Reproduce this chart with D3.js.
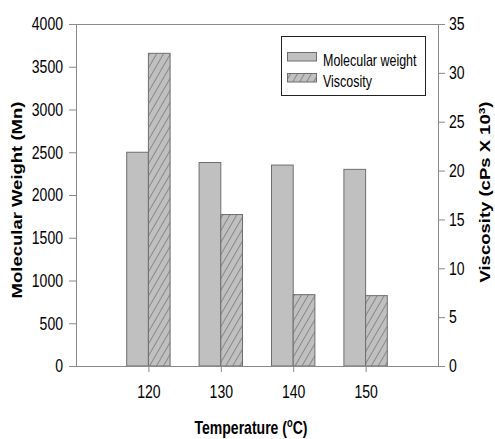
<!DOCTYPE html>
<html>
<head>
<meta charset="utf-8">
<script src="https://cdn.jsdelivr.net/npm/d3@7"></script>
<style>
  html, body { margin: 0; padding: 0; background: #fff; }
  svg { display: block; }
  text { font-family: "Liberation Sans", Arial, sans-serif; }
  /* narrow lettering: squeeze glyphs horizontally around an anchor */
  .nx-r { transform: scaleX(0.78); transform-box: fill-box; transform-origin: 100% 50%; }
  .nx-l { transform: scaleX(0.78); transform-box: fill-box; transform-origin: 0% 50%; }
  .nx-c { transform: scaleX(0.78); transform-box: fill-box; transform-origin: 50% 50%; }
</style>
</head>
<body>
<svg id="chart" width="495" height="439"></svg>
<script>
// Reaction temperature (°C)
const temperatures = [120, 130, 140, 150];
// Number-average molecular weight (Mn), left axis
const molecularWeight = [2500, 2380, 2350, 2300];
// Viscosity (cPs × 10³), right axis
const viscosity = [32, 15.5, 7.3, 7.2];
const mwTicks = [0, 500, 1000, 1500, 2000, 2500, 3000, 3500, 4000];
const viscTicks = [0, 5, 10, 15, 20, 25, 30, 35];
const seriesNames = ["Molecular weight", "Viscosity"];

const svg = d3.select("#chart");
const W = 495, H = 439;
const m = { left: 76, right: 57, top: 24, bottom: 73 };
const x0 = m.left, x1 = W - m.right, y0 = H - m.bottom, y1 = m.top;

const x = d3.scaleLinear().domain([110, 160]).range([x0, x1]);
const yL = d3.scaleLinear().domain([0, 4000]).range([y0, y1]);
const yR = d3.scaleLinear().domain([0, 35]).range([y0, y1]);
const barW = 21.7;

const axisColor = "#8a8a8a";
const barStroke = "#6e6e6e";

// diagonal hatch for the viscosity bars
const defs = svg.append("defs");
const pat = defs.append("pattern")
  .attr("id", "hatch").attr("patternUnits", "userSpaceOnUse")
  .attr("width", 6).attr("height", 6)
  .attr("patternTransform", "rotate(30)");
pat.append("rect").attr("width", 6).attr("height", 6).attr("fill", "#c0c0c0");
pat.append("line").attr("x1", 0).attr("y1", 0).attr("x2", 0).attr("y2", 6)
  .attr("stroke", "#505050").attr("stroke-width", 1);

// top frame line
svg.append("line").attr("x1", x0).attr("x2", x1).attr("y1", y1 + 0.5).attr("y2", y1 + 0.5)
  .attr("stroke", axisColor).attr("stroke-width", 1);

// bars: molecular weight left of each tick, viscosity right of it
const g = svg.append("g");
g.selectAll("rect.mw").data(temperatures).join("rect").attr("class", "mw")
  .attr("x", (d) => x(d) - barW)
  .attr("y", (d, i) => yL(molecularWeight[i]))
  .attr("width", barW)
  .attr("height", (d, i) => y0 - yL(molecularWeight[i]))
  .attr("fill", "#c0c0c0").attr("stroke", barStroke).attr("stroke-width", 1);
g.selectAll("rect.vis").data(temperatures).join("rect").attr("class", "vis")
  .attr("x", (d) => x(d))
  .attr("y", (d, i) => yR(viscosity[i]))
  .attr("width", barW)
  .attr("height", (d, i) => y0 - yR(viscosity[i]))
  .attr("fill", "url(#hatch)").attr("stroke", barStroke).attr("stroke-width", 1);

// axes
function styleAxis(cls) {
  return (sel) => {
    sel.select(".domain").attr("stroke", axisColor);
    sel.selectAll(".tick line").attr("stroke", axisColor);
    sel.selectAll(".tick text").attr("fill", "#000")
      .attr("class", cls)
      .style("font-size", "18px")
      .style("font-family", '"Liberation Sans", Arial, sans-serif');
  };
}
svg.append("g").attr("transform", `translate(${x0},0)`)
  .call(d3.axisLeft(yL).tickValues(mwTicks).tickSize(7).tickSizeOuter(0).tickPadding(6).tickFormat(d3.format("d")))
  .call(styleAxis("nx-r"));
svg.append("g").attr("transform", `translate(${x1},0)`)
  .call(d3.axisRight(yR).tickValues(viscTicks).tickSize(7).tickSizeOuter(0).tickPadding(4).tickFormat(d3.format("d")))
  .call(styleAxis("nx-l"));
const axB = svg.append("g").attr("transform", `translate(0,${y0})`)
  .call(d3.axisBottom(x).tickValues(temperatures).tickSize(6).tickSizeOuter(0).tickPadding(13).tickFormat(d3.format("d")))
  .call(styleAxis("nx-c"));
axB.select(".domain").attr("d", `M${x0},0.5H${x1}`);

// axis titles (rotated titles are thinned across their height)
svg.append("text").attr("transform", `translate(22,200) rotate(-90) scale(1,0.78)`)
  .attr("text-anchor", "middle").attr("font-weight", "bold").attr("font-size", 18.5)
  .text("Molecular Weight (Mn)");

const rt = svg.append("text").attr("transform", `translate(490,192) rotate(-90) scale(1,0.78)`)
  .attr("text-anchor", "middle").attr("font-weight", "bold").attr("font-size", 18.5);
rt.append("tspan").text("Viscosity (cPs X 10");
rt.append("tspan").attr("dy", -7).attr("font-size", 12).text("3");
rt.append("tspan").attr("dy", 7).text(")");

const bt = svg.append("text").attr("x", 251).attr("y", 434)
  .attr("text-anchor", "middle").attr("class", "nx-c")
  .attr("font-weight", "bold").attr("font-size", 18);
bt.append("tspan").text("Temperature (");
bt.append("tspan").attr("dy", -7).attr("font-size", 12).text("o");
bt.append("tspan").attr("dy", 7).text("C)");

// legend
const lg = svg.append("g");
lg.append("rect").attr("x", 281.5).attr("y", 36.5).attr("width", 144).attr("height", 59)
  .attr("fill", "#fff").attr("stroke", "#222").attr("stroke-width", 1);
const fills = ["#c0c0c0", "url(#hatch)"];
seriesNames.forEach((name, i) => {
  const yy = 52.5 + i * 21;
  lg.append("rect").attr("x", 287.5).attr("y", yy).attr("width", 29).attr("height", 8.5)
    .attr("fill", fills[i]).attr("stroke", barStroke);
  lg.append("text").attr("x", 323).attr("y", yy + 14).attr("class", "nx-l")
    .attr("font-size", 16).text(name);
});
</script>
</body>
</html>
